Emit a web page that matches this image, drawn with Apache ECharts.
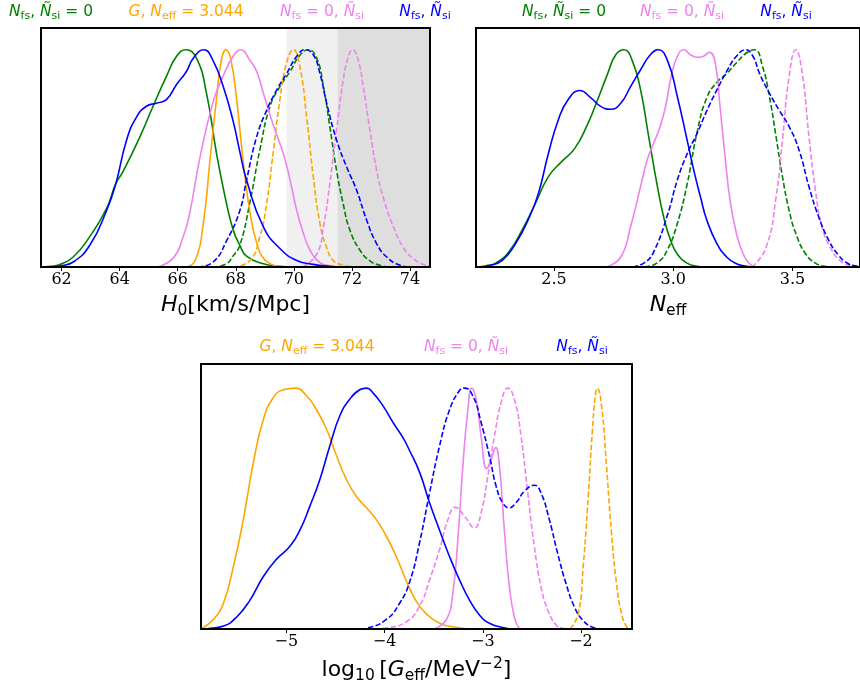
<!DOCTYPE html>
<html>
<head>
<meta charset="utf-8">
<script src="https://cdn.jsdelivr.net/npm/echarts@6/dist/echarts.min.js"></script>
<style>
html, body { margin: 0; padding: 0; background: #fff; }
#chart { width: 860px; height: 686px; }
</style>
</head>
<body>
<div id="chart"></div>
<script>
// marginal posteriors, normalised to peak = 1

// H0 panel
const h0GreenSolid = [[61.3,0],[61.6,0.003],[61.94,0.012],[62.4,0.046],[62.97,0.14],[63.55,0.27],[63.87,0.385],[64.12,0.44],[64.7,0.6],[65.15,0.74],[65.61,0.877],[65.96,0.97],[66.28,1.0],[66.65,0.96],[66.99,0.8],[67.34,0.52],[67.62,0.33],[67.91,0.17],[68.14,0.1],[68.37,0.05],[68.95,0.015],[69.5,0.003],[70.0,0]];
const h0GreenDashed = [[67.2,0],[67.68,0.015],[67.9,0.05],[68.14,0.1],[68.49,0.3],[68.83,0.54],[69.18,0.74],[69.52,0.83],[69.87,0.9],[70.21,0.975],[70.5,1.0],[70.79,0.96],[71.02,0.83],[71.24,0.646],[71.47,0.446],[71.7,0.29],[71.93,0.17],[72.28,0.077],[72.62,0.028],[72.97,0.008],[73.3,0]];
const h0OrangeSolid = [[66.3,0],[66.6,0.03],[66.88,0.2],[67.11,0.49],[67.34,0.78],[67.5,0.95],[67.66,1.0],[67.82,0.96],[68.03,0.77],[68.26,0.48],[68.49,0.25],[68.72,0.11],[68.95,0.04],[69.3,0.008],[69.6,0]];
const h0OrangeDashed = [[67.9,0],[68.49,0.03],[68.83,0.14],[69.06,0.29],[69.3,0.54],[69.52,0.77],[69.75,0.94],[69.98,1.0],[70.21,0.92],[70.44,0.69],[70.67,0.415],[70.9,0.2],[71.13,0.09],[71.36,0.03],[71.7,0.008],[72.0,0]];
const h0VioletSolid = [[65.3,0],[65.84,0.04],[66.19,0.14],[66.4,0.24],[66.76,0.5],[67.22,0.76],[67.57,0.88],[67.91,0.97],[68.17,1.0],[68.49,0.95],[68.72,0.9],[68.95,0.8],[69.3,0.65],[69.64,0.52],[69.87,0.4],[70.1,0.26],[70.33,0.154],[70.56,0.077],[70.9,0.02],[71.24,0.006],[71.6,0]];
const h0VioletDashed = [[70.3,0],[70.79,0.06],[71.02,0.185],[71.24,0.385],[71.47,0.63],[71.7,0.86],[71.88,0.97],[72.02,1.0],[72.22,0.95],[72.39,0.83],[72.62,0.63],[72.85,0.446],[73.08,0.32],[73.43,0.185],[73.77,0.09],[74.12,0.038],[74.46,0.012],[74.69,0.003]];
const h0BlueSolid = [[61.5,0],[61.94,0.005],[62.4,0.023],[62.97,0.1],[63.55,0.26],[63.87,0.385],[64.24,0.585],[64.58,0.69],[64.92,0.74],[65.27,0.754],[65.61,0.77],[65.96,0.84],[66.3,0.9],[66.53,0.96],[66.9,1.0],[67.2,0.955],[67.57,0.83],[67.91,0.67],[68.14,0.53],[68.37,0.4],[68.95,0.185],[69.52,0.085],[70.1,0.03],[70.67,0.012],[71.24,0.003],[71.6,0]];
const h0BlueDashed = [[66.7,0],[67.22,0.023],[67.68,0.12],[68.14,0.26],[68.37,0.4],[68.72,0.6],[69.06,0.72],[69.41,0.815],[69.75,0.89],[70.1,0.97],[70.38,1.0],[70.67,0.977],[70.9,0.89],[71.13,0.754],[71.47,0.585],[71.82,0.46],[72.16,0.354],[72.51,0.215],[72.85,0.108],[73.2,0.046],[73.66,0.008],[74.0,0]];

// Neff panel
const neffGreenSolid = [[2.18,0],[2.214,0.006],[2.256,0.018],[2.311,0.07],[2.366,0.17],[2.421,0.29],[2.476,0.415],[2.532,0.485],[2.587,0.546],[2.642,0.66],[2.683,0.77],[2.725,0.89],[2.759,0.977],[2.794,1.0],[2.828,0.95],[2.863,0.815],[2.897,0.6],[2.932,0.38],[2.962,0.22],[2.99,0.12],[3.017,0.06],[3.058,0.018],[3.1,0.003],[3.13,0]];
const neffGreenDashed = [[2.88,0],[2.934,0.02],[2.976,0.08],[3.017,0.2],[3.058,0.38],[3.1,0.62],[3.141,0.78],[3.183,0.85],[3.224,0.89],[3.265,0.94],[3.307,0.985],[3.341,1.0],[3.375,0.92],[3.403,0.785],[3.431,0.6],[3.458,0.415],[3.486,0.26],[3.514,0.154],[3.555,0.06],[3.596,0.018],[3.637,0.003],[3.67,0]];
const neffVioletSolid = [[2.72,0],[2.78,0.046],[2.821,0.185],[2.863,0.37],[2.89,0.49],[2.918,0.57],[2.945,0.646],[2.97,0.75],[2.99,0.87],[3.017,0.97],[3.045,1.0],[3.072,0.977],[3.105,0.965],[3.127,0.97],[3.152,0.988],[3.176,0.94],[3.196,0.74],[3.217,0.51],[3.238,0.31],[3.265,0.154],[3.293,0.06],[3.32,0.015],[3.345,0]];
const neffVioletDashed = [[3.33,0],[3.389,0.09],[3.431,0.32],[3.458,0.585],[3.486,0.877],[3.514,1.0],[3.541,0.89],[3.569,0.6],[3.596,0.354],[3.624,0.185],[3.665,0.077],[3.707,0.023],[3.748,0.006],[3.78,0]];
const neffBlueSolid = [[2.19,0],[2.228,0.006],[2.283,0.03],[2.339,0.108],[2.394,0.223],[2.435,0.34],[2.476,0.52],[2.518,0.677],[2.559,0.77],[2.608,0.812],[2.656,0.777],[2.697,0.738],[2.739,0.726],[2.78,0.754],[2.821,0.83],[2.863,0.908],[2.904,0.977],[2.937,1.0],[2.976,0.95],[3.017,0.785],[3.058,0.585],[3.086,0.446],[3.114,0.323],[3.141,0.215],[3.183,0.108],[3.224,0.046],[3.265,0.015],[3.307,0.003],[3.34,0]];
const neffBlueDashed = [[2.83,0],[2.88,0.02],[2.918,0.07],[2.976,0.24],[3.017,0.4],[3.058,0.52],[3.1,0.615],[3.141,0.72],[3.183,0.815],[3.224,0.9],[3.265,0.97],[3.304,1.0],[3.334,0.97],[3.362,0.89],[3.403,0.8],[3.445,0.72],[3.486,0.646],[3.527,0.54],[3.569,0.37],[3.61,0.23],[3.652,0.123],[3.693,0.054],[3.734,0.015],[3.762,0.006],[3.79,0]];

// log10 Geff panel
const gOrangeSolid = [[-5.87,0.002],[-5.845,0.006],[-5.743,0.04],[-5.642,0.107],[-5.54,0.26],[-5.439,0.454],[-5.337,0.69],[-5.235,0.87],[-5.134,0.96],[-5.032,0.993],[-4.913,1.0],[-4.795,0.968],[-4.693,0.91],[-4.592,0.83],[-4.49,0.72],[-4.388,0.62],[-4.287,0.55],[-4.185,0.503],[-4.084,0.454],[-3.982,0.385],[-3.88,0.3],[-3.779,0.2],[-3.677,0.115],[-3.58,0.065],[-3.44,0.024],[-3.271,0.007],[-3.1,0]];
const gOrangeDashed = [[-2.11,0],[-2.027,0.065],[-1.977,0.26],[-1.926,0.55],[-1.885,0.815],[-1.851,0.98],[-1.835,1.0],[-1.79,0.926],[-1.74,0.676],[-1.689,0.4],[-1.638,0.19],[-1.587,0.065],[-1.536,0.01],[-1.5,0]];
const gVioletSolid = [[-3.5,0],[-3.372,0.038],[-3.305,0.15],[-3.254,0.37],[-3.203,0.676],[-3.152,0.91],[-3.112,1.0],[-3.068,0.954],[-3.017,0.8],[-2.959,0.665],[-2.915,0.704],[-2.868,0.753],[-2.83,0.676],[-2.78,0.41],[-2.729,0.176],[-2.678,0.05],[-2.627,0.003],[-2.6,0]];
const gVioletDashed = [[-4.1,0],[-3.982,0.004],[-3.779,0.03],[-3.643,0.095],[-3.542,0.204],[-3.44,0.33],[-3.355,0.454],[-3.28,0.505],[-3.186,0.468],[-3.084,0.42],[-3.017,0.482],[-2.949,0.635],[-2.881,0.8],[-2.813,0.94],[-2.746,1.0],[-2.678,0.954],[-2.61,0.8],[-2.542,0.565],[-2.475,0.343],[-2.407,0.176],[-2.339,0.08],[-2.254,0.017],[-2.187,0.003],[-2.15,0]];
const gBlueSolid = [[-5.85,0],[-5.777,0.003],[-5.642,0.012],[-5.506,0.05],[-5.371,0.12],[-5.235,0.218],[-5.1,0.29],[-4.964,0.343],[-4.863,0.41],[-4.761,0.51],[-4.66,0.62],[-4.558,0.76],[-4.456,0.885],[-4.355,0.954],[-4.253,0.993],[-4.185,1.0],[-4.118,0.98],[-4.016,0.926],[-3.914,0.857],[-3.813,0.794],[-3.745,0.74],[-3.643,0.65],[-3.542,0.524],[-3.44,0.41],[-3.338,0.3],[-3.237,0.204],[-3.135,0.12],[-3.034,0.058],[-2.932,0.024],[-2.797,0.006],[-2.7,0]];
const gBlueDashed = [[-4.25,0],[-4.185,0.003],[-3.982,0.04],[-3.847,0.107],[-3.745,0.195],[-3.643,0.36],[-3.542,0.565],[-3.44,0.76],[-3.338,0.91],[-3.237,0.99],[-3.186,1.0],[-3.101,0.968],[-3.017,0.857],[-2.932,0.718],[-2.864,0.593],[-2.797,0.524],[-2.729,0.503],[-2.661,0.524],[-2.576,0.572],[-2.475,0.597],[-2.407,0.565],[-2.322,0.454],[-2.238,0.315],[-2.153,0.19],[-2.068,0.093],[-1.984,0.038],[-1.882,0.007],[-1.8,0]];

// axes
const h0Range = [61.29, 74.69];
const neffRange = [2.173, 3.783];
const gRange = [-5.87, -1.48];
const h0Ticks = [62, 64, 66, 68, 70, 72, 74];
const neffTicks = [2.5, 3.0, 3.5];
const gTicks = [-5, -4, -3, -2];
// shaded H0 bands
const h0BandLight = [69.75, 71.5];
const h0BandDark = [71.5, 74.69];

const GREEN = '#008000', ORANGE = '#FFA500', VIOLET = '#EE82EE', BLUE = '#0000FF';

const chart = echarts.init(document.getElementById('chart'));

function curve(data, color, dashed, idx) {
    return {
        type: 'line', xAxisIndex: idx, yAxisIndex: idx, data: data,
        smooth: 0.5, symbol: 'none', silent: true, z: 3,
        lineStyle: { color: color, width: 1.6, type: dashed ? [5.5, 2.4] : 'solid' }
    };
}

// rich styles for mathtext-like labels
function mathRich(color, size, sub, lh, forGraphic) {
    const c = forGraphic ? 'fill' : 'color';
    const base = { fontFamily: 'DejaVu Sans', fontSize: size, lineHeight: lh };
    base[c] = color;
    const subH = Math.round(sub * 1.05);
    return {
        n: Object.assign({}, base),
        i: Object.assign({}, base, { fontStyle: 'italic' }),
        s: Object.assign({}, base, { fontSize: sub, lineHeight: subH, verticalAlign: 'bottom' }),
        p: Object.assign({}, base, { fontSize: sub, lineHeight: subH, verticalAlign: 'top' })
    };
}

const LBL_GREEN = '{i|N}{s|fs}{n|, }{i|Ñ}{s|si}{n| = 0}';
const LBL_ORANGE = '{i|G}{n|, }{i|N}{s|eff}{n| = 3.044}';
const LBL_VIOLET = '{i|N}{s|fs}{n| = 0, }{i|Ñ}{s|si}';
const LBL_BLUE = '{i|N}{s|fs}{n|, }{i|Ñ}{s|si}';

function title(text, color, x, y) {
    return {
        type: 'text', x: x, y: y, silent: true, z: 10,
        style: { text: text, align: 'center', verticalAlign: 'middle', fill: color,
                 rich: mathRich(color, 15.5, 11, 20, true) }
    };
}

function xAxisFor(idx, range, ticks, fmt, name, gap) {
    return {
        type: 'value', gridIndex: idx, min: range[0], max: range[1],
        splitLine: { show: false },
        axisLine: { show: false },
        axisTick: { show: true, length: 4, customValues: ticks, lineStyle: { color: '#000', width: 1 } },
        axisLabel: { customValues: ticks, color: '#000', fontFamily: 'DejaVu Serif', fontSize: 16, margin: 5, formatter: fmt },
        name: name, nameLocation: 'middle', nameGap: gap,
        nameTextStyle: { rich: mathRich('#000', 22, 15.5, 28, false) }
    };
}

function yAxisFor(idx) {
    return { type: 'value', gridIndex: idx, min: 0, max: 1.1, show: false };
}

const frame = { show: true, borderColor: '#000', borderWidth: 2, backgroundColor: 'transparent', z: 6 };

const option = {
    animation: false,
    grid: [
        Object.assign({ left: 41, top: 28, width: 389, height: 239 }, frame),
        Object.assign({ left: 476, top: 28, width: 389, height: 239 }, frame),
        Object.assign({ left: 201, top: 364, width: 431, height: 265 }, frame)
    ],
    xAxis: [
        xAxisFor(0, h0Range, h0Ticks, v => String(v), '{i|H}{s|0}{n|[km/s/Mpc]}', 24),
        xAxisFor(1, neffRange, neffTicks, v => v.toFixed(1), '{i|N}{s|eff}', 24),
        xAxisFor(2, gRange, gTicks, v => (v < 0 ? '\u2212' + Math.abs(v) : String(v)),
                 '{n|log}{s|10}{n|\u2009[}{i|G}{s|eff}{n|/MeV}{p|\u22122}{n|]}', 27)
    ],
    yAxis: [yAxisFor(0), yAxisFor(1), yAxisFor(2)],
    graphic: [
        title(LBL_GREEN, GREEN, 51, 12),
        title(LBL_ORANGE, ORANGE, 186, 12),
        title(LBL_VIOLET, VIOLET, 322, 12),
        title(LBL_BLUE, BLUE, 425, 12),
        title(LBL_GREEN, GREEN, 564, 12),
        title(LBL_VIOLET, VIOLET, 682, 12),
        title(LBL_BLUE, BLUE, 786, 12),
        title(LBL_ORANGE, ORANGE, 317, 347),
        title(LBL_VIOLET, VIOLET, 466, 347),
        title(LBL_BLUE, BLUE, 582, 347)
    ],
    series: [
        {
            type: 'line', xAxisIndex: 0, yAxisIndex: 0, data: [[h0BandLight[0], 0]],
            symbol: 'none', lineStyle: { width: 0 }, silent: true, z: 1,
            markArea: {
                silent: true,
                data: [
                    [{ xAxis: h0BandLight[0], itemStyle: { color: '#f0f0f0' } }, { xAxis: h0BandLight[1] }],
                    [{ xAxis: h0BandDark[0], itemStyle: { color: '#dedede' } }, { xAxis: h0BandDark[1] }]
                ]
            }
        },
        curve(h0GreenSolid, GREEN, false, 0),
        curve(h0GreenDashed, GREEN, true, 0),
        curve(h0OrangeSolid, ORANGE, false, 0),
        curve(h0OrangeDashed, ORANGE, true, 0),
        curve(h0VioletSolid, VIOLET, false, 0),
        curve(h0VioletDashed, VIOLET, true, 0),
        curve(h0BlueSolid, BLUE, false, 0),
        curve(h0BlueDashed, BLUE, true, 0),

        curve(neffGreenSolid, GREEN, false, 1),
        curve(neffGreenDashed, GREEN, true, 1),
        curve(neffVioletSolid, VIOLET, false, 1),
        curve(neffVioletDashed, VIOLET, true, 1),
        curve(neffBlueSolid, BLUE, false, 1),
        curve(neffBlueDashed, BLUE, true, 1),

        curve(gOrangeSolid, ORANGE, false, 2),
        curve(gOrangeDashed, ORANGE, true, 2),
        curve(gVioletSolid, VIOLET, false, 2),
        curve(gVioletDashed, VIOLET, true, 2),
        curve(gBlueSolid, BLUE, false, 2),
        curve(gBlueDashed, BLUE, true, 2)
    ]
};

chart.setOption(option);
</script>
</body>
</html>
